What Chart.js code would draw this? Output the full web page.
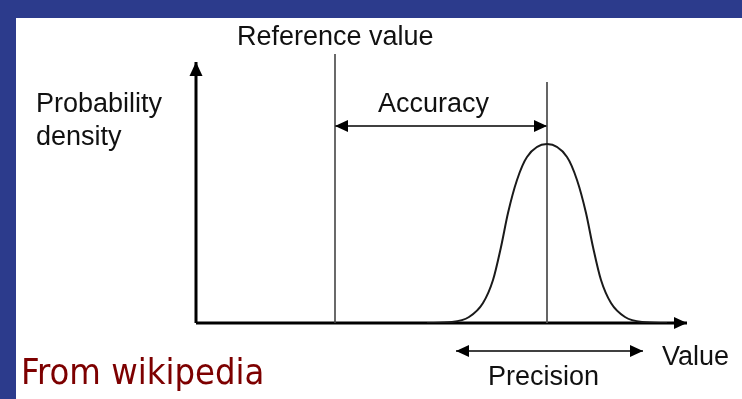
<!DOCTYPE html>
<html lang="en">
<head>
    <meta charset="UTF-8">
    <title>Accuracy and precision</title>
    <script src="https://cdn.jsdelivr.net/npm/chart.js"></script>
    <style>
        html, body { margin: 0; padding: 0; background: #2c3b8c; }
        #wrap { position: relative; width: 742px; height: 399px; }
    </style>
</head>
<body>
<div id="wrap"><canvas id="accChart" width="742" height="399"></canvas></div>

<script>
    // Bell curve (value axis, density)
    const curveX = [231, 256, 273, 287, 297, 305, 312, 321, 331, 351, 371, 381, 390, 397, 405, 415, 429, 446, 471];
    const curveY = [0, 1, 6, 20, 43, 76, 110, 143, 166, 179, 166, 143, 110, 76, 43, 20, 6, 1, 0];

    // Axes and marker lines
    const axisX = [0, 491];
    const axisY = [0, 261];
    const referenceValue = 139;
    const referenceTop = 269;
    const meanValue = 351;
    const meanTop = 241;
    const accuracyLevel = 197;
    const precisionRange = [260, 447];
    const precisionLevel = -28;

    const labels = {
        reference: 'Reference value',
        yTitle: ['Probability', 'density'],
        accuracy: 'Accuracy',
        precision: 'Precision',
        xTitle: 'Value',
        source: 'From wikipedia'
    };

    const seg = (x0, y0, x1, y1) => [{ x: x0, y: y0 }, { x: x1, y: y1 }];

    // paints the slide background and the white panel
    const backdrop = {
        id: 'backdrop',
        beforeDraw(chart) {
            const c = chart.ctx;
            c.save();
            c.fillStyle = '#2c3b8c';
            c.fillRect(0, 0, chart.width, chart.height);
            c.fillStyle = '#ffffff';
            c.fillRect(16, 18, chart.width - 16, chart.height - 18);
            c.restore();
        }
    };

    // arrowheads at the ends of datasets flagged with `arrows`
    const arrowHeads = {
        id: 'arrowHeads',
        afterDatasetsDraw(chart) {
            const c = chart.ctx;
            chart.data.datasets.forEach((ds, i) => {
                if (!ds.arrows) return;
                const pts = chart.getDatasetMeta(i).data;
                const ends = [];
                if (ds.arrows.includes('end')) ends.push([pts[pts.length - 2], pts[pts.length - 1]]);
                if (ds.arrows.includes('start')) ends.push([pts[1], pts[0]]);
                ends.forEach(([from, tip]) => {
                    const ang = Math.atan2(tip.y - from.y, tip.x - from.x);
                    const len = ds.headLen || 13, half = ds.headHalf || 6;
                    c.save();
                    c.translate(tip.x, tip.y);
                    c.rotate(ang);
                    c.beginPath();
                    c.moveTo(0, 0);
                    c.lineTo(-len, -half);
                    c.lineTo(-len, half);
                    c.closePath();
                    c.fillStyle = '#000';
                    c.fill();
                    c.restore();
                });
            });
        }
    };

    const textLabels = {
        id: 'textLabels',
        afterDraw(chart) {
            const c = chart.ctx;
            c.save();
            c.textBaseline = 'alphabetic';
            c.textAlign = 'left';
            c.fillStyle = '#111';
            c.font = '27px "Liberation Sans", Arial, sans-serif';
            c.fillText(labels.reference, 237, 45);
            c.fillText(labels.yTitle[0], 36, 112);
            c.fillText(labels.yTitle[1], 36, 145);
            c.fillText(labels.accuracy, 378, 112);
            c.fillText(labels.precision, 488, 385);
            c.fillText(labels.xTitle, 662, 365);
            c.fillStyle = '#7d0000';
            c.font = '36px "DejaVu Sans Condensed", "DejaVu Sans", sans-serif';
            c.fillText(labels.source, 21, 384);
            c.restore();
        }
    };

    const ctx = document.getElementById('accChart').getContext('2d');
    new Chart(ctx, {
        type: 'line',
        data: {
            datasets: [
                {
                    label: 'density',
                    data: curveX.map((x, i) => ({ x: x, y: curveY[i] })),
                    borderColor: '#1a1a1a',
                    borderWidth: 2,
                    cubicInterpolationMode: 'monotone',
                    pointRadius: 0
                },
                {
                    label: 'reference',
                    data: seg(referenceValue, 0, referenceValue, referenceTop),
                    borderColor: '#444',
                    borderWidth: 1.6,
                    pointRadius: 0,
                    clip: false
                },
                {
                    label: 'mean',
                    data: seg(meanValue, 0, meanValue, meanTop),
                    borderColor: '#555',
                    borderWidth: 1.8,
                    pointRadius: 0
                },
                {
                    label: 'x axis',
                    data: seg(axisX[0], 0, axisX[1], 0),
                    borderColor: '#000',
                    borderWidth: 3,
                    pointRadius: 0,
                    arrows: ['end'],
                    clip: false
                },
                {
                    label: 'y axis',
                    data: seg(0, axisY[0], 0, axisY[1]),
                    borderColor: '#000',
                    borderWidth: 3,
                    pointRadius: 0,
                    arrows: ['end'],
                    headLen: 14,
                    headHalf: 6.5,
                    clip: false
                },
                {
                    label: 'accuracy',
                    data: seg(referenceValue, accuracyLevel, meanValue, accuracyLevel),
                    borderColor: '#000',
                    borderWidth: 1.5,
                    pointRadius: 0,
                    arrows: ['start', 'end']
                },
                {
                    label: 'precision',
                    data: seg(precisionRange[0], precisionLevel, precisionRange[1], precisionLevel),
                    borderColor: '#000',
                    borderWidth: 1.5,
                    pointRadius: 0,
                    arrows: ['start', 'end'],
                    clip: false
                }
            ]
        },
        options: {
            responsive: false,
            animation: false,
            layout: { padding: { left: 196, right: 55, top: 54, bottom: 76 } },
            plugins: { legend: { display: false }, tooltip: { enabled: false } },
            scales: {
                x: { type: 'linear', min: 0, max: 491, display: false },
                y: { type: 'linear', min: 0, max: 269, display: false }
            }
        },
        plugins: [backdrop, arrowHeads, textLabels]
    });
</script>
</body>
</html>
